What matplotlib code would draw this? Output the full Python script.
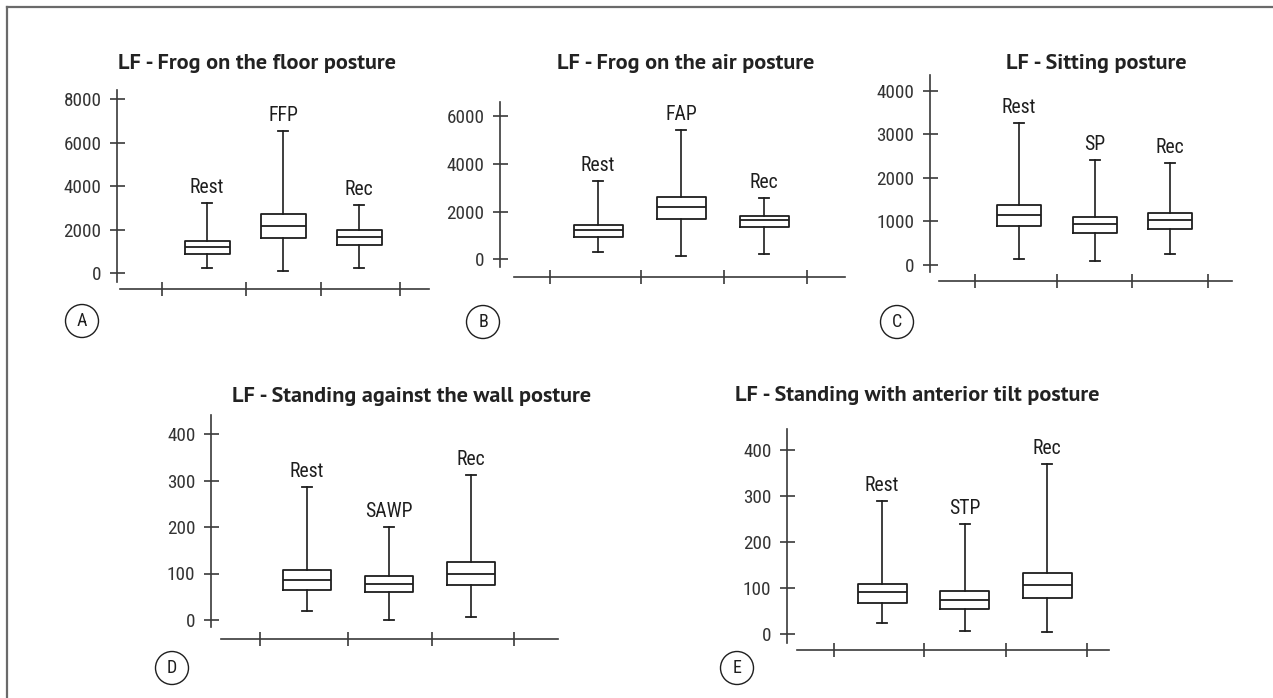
import matplotlib
matplotlib.use("Agg")
import matplotlib.pyplot as plt
from matplotlib.lines import Line2D
from matplotlib.patches import Ellipse

W, H, DPI = 1273, 698, 100

# ---------------- data ----------------
titles = [
    "LF - Frog on the floor posture",
    "LF - Frog on the air posture",
    "LF - Sitting posture",
    "LF - Standing against the wall posture",
    "LF - Standing with anterior tilt posture",
]
letters = ["A", "B", "C", "D", "E"]
categories = [
    ["Rest", "FFP", "Rec"],
    ["Rest", "FAP", "Rec"],
    ["Rest", "SP", "Rec"],
    ["Rest", "SAWP", "Rec"],
    ["Rest", "STP", "Rec"],
]
yticks = [
    [0, 2000, 4000, 6000, 8000],
    [0, 2000, 4000, 6000],
    [0, 1000, 2000, 3000, 4000],
    [0, 100, 200, 300, 400],
    [0, 100, 200, 300, 400],
]
whisker_low = [
    [246, 92, 246],
    [321, 140, 223],
    [145, 84, 245],
    [19, 1, 6],
    [23, 6, 4],
]
q1 = [
    [877, 1615, 1308],
    [949, 1703, 1340],
    [895, 727, 834],
    [64, 61, 76],
    [68, 54, 78],
]
median = [
    [1185, 2169, 1646],
    [1228, 2177, 1633],
    [1147, 933, 1033],
    [85, 78, 100],
    [91, 75, 106],
]
q3 = [
    [1492, 2692, 1985],
    [1451, 2624, 1828],
    [1369, 1101, 1201],
    [108, 95, 125],
    [109, 94, 133],
]
whisker_high = [
    [3231, 6538, 3108],
    [3266, 5401, 2582],
    [3250, 2401, 2340],
    [287, 201, 312],
    [289, 239, 370],
]

# ---------------- layout (pixels) ----------------
layout = [
    dict(yx=117, yt=90, yb=282, y0=273, ym=99, c1=207, d=76, xy=289, xl=120, xr=429,
         xt=[162, 246, 321, 400], bw=45, tx=257, ty=69, cx=82, cy=321),
    dict(yx=500, yt=102, yb=267, y0=259.3, ym=116, c1=598, d=83, xy=277, xl=514, xr=845,
         xt=[550, 641, 724, 807], bw=49, tx=686, ty=69, cx=483, cy=322),
    dict(yx=930, yt=75, yb=272, y0=265, ym=90.7, c1=1019, d=75.5, xy=281, xl=939, xr=1232,
         xt=[975, 1057, 1132, 1208], bw=44, tx=1096, ty=69, cx=897, cy=322),
    dict(yx=211, yt=415, yb=627, y0=620, ym=434, c1=307, d=82, xy=639, xl=221, xr=558,
         xt=[260, 348, 432, 514], bw=48, tx=412, ty=402, cx=172, cy=668),
    dict(yx=787, yt=429, yb=643, y0=634, ym=450, c1=882, d=82.5, xy=650, xl=797, xr=1109,
         xt=[834, 924, 1006, 1087], bw=49, tx=917, ty=401, cx=737, cy=668),
]

PT = 72.0 / DPI
INK = "#1e1e1e"
AXC = "#3a3a3a"
CONDFONT = ["Roboto Condensed", "DejaVu Sans"]
TITLEFONT = ["PT Sans", "DejaVu Sans"]

fig = plt.figure(figsize=(W / DPI, H / DPI), dpi=DPI)
fig.patch.set_facecolor("white")

for k in range(5):
    L = layout[k]
    vmax = yticks[k][-1]

    def val(p, L=L, vmax=vmax):
        return (L["y0"] - p) / (L["y0"] - L["ym"]) * vmax

    def pos(px, L=L):
        return 1 + (px - L["c1"]) / L["d"]

    ax = fig.add_axes([L["yx"] / W, 1 - L["yb"] / H,
                       (L["xr"] - L["yx"]) / W, (L["yb"] - L["yt"]) / H])
    ax.set_facecolor("none")

    stats = []
    for i, cat in enumerate(categories[k]):
        stats.append(dict(label=cat, whislo=whisker_low[k][i], q1=q1[k][i],
                          med=median[k][i], q3=q3[k][i], whishi=whisker_high[k][i]))
    ax.bxp(stats, positions=[1, 2, 3], widths=L["bw"] / L["d"],
           capwidths=10 / L["d"], showfliers=False,
           boxprops=dict(color=INK, lw=1.3),
           whiskerprops=dict(color=INK, lw=1.2),
           capprops=dict(color=INK, lw=1.3),
           medianprops=dict(color=INK, lw=1.3))

    for i, cat in enumerate(categories[k]):
        ax.annotate(cat, xy=(i + 1, whisker_high[k][i]), xytext=(0, 10 * PT),
                    textcoords="offset points", ha="center", va="baseline",
                    fontsize=14.2, family=CONDFONT, color=INK)

    ax.set_ylim(val(L["yb"]), val(L["yt"]))
    ax.set_xlim(pos(L["yx"]), pos(L["xr"]))

    ax.spines["top"].set_visible(False)
    ax.spines["right"].set_visible(False)
    for s in ("left", "bottom"):
        ax.spines[s].set_color(AXC)
        ax.spines[s].set_linewidth(1.2)
    ax.spines["bottom"].set_position(("outward", (L["xy"] - L["yb"]) * PT))
    ax.spines["bottom"].set_bounds(pos(L["xl"]), pos(L["xr"]))

    ax.set_yticks(yticks[k])
    ax.set_yticklabels([str(t) for t in yticks[k]], family=CONDFONT, fontsize=13.8,
                       color="#333333")
    ax.set_xticks([pos(t) for t in L["xt"]])
    ax.set_xticklabels([])
    ax.tick_params(axis="y", direction="inout", length=15 * PT, width=1.2,
                   color=AXC, pad=5.8)
    ax.tick_params(axis="x", direction="inout", length=14 * PT, width=1.2,
                   color=AXC)

    fig.text(L["tx"] / W, 1 - L["ty"] / H, titles[k], ha="center", va="baseline",
             fontsize=16, fontweight="bold", family=TITLEFONT, color="#222222")

    fig.add_artist(Ellipse((L["cx"] / W, 1 - L["cy"] / H), 33 / W, 33 / H,
                           transform=fig.transFigure, fill=False, lw=1.0, ec=INK))
    fig.text(L["cx"] / W, 1 - L["cy"] / H, letters[k], ha="center", va="center",
             fontsize=13, family=CONDFONT, color=INK)

# frame (top and left only)
fig.add_artist(Line2D([7 / W, 7 / W], [0, 1 - 7 / H], transform=fig.transFigure,
                      color="#6a6a6a", lw=1.6))
fig.add_artist(Line2D([7 / W, 1], [1 - 7 / H, 1 - 7 / H], transform=fig.transFigure,
                      color="#6a6a6a", lw=1.6))

fig.savefig("out.png", dpi=DPI)
